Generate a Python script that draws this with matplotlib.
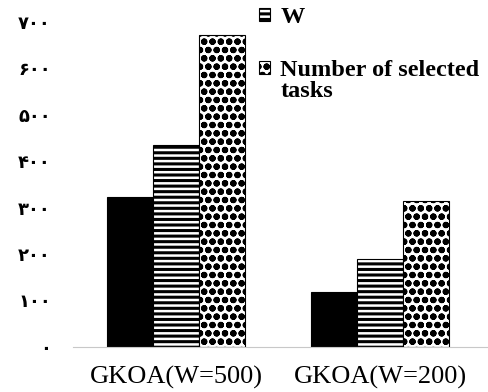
import matplotlib
matplotlib.use("Agg")
import matplotlib.pyplot as plt
import numpy as np

groups = ["GKOA(W=500)", "GKOA(W=200)"]
series_names = ["", "W", "Number of selected", "tasks"]
first_vals = [322, 118]
w_vals = [435, 190]
tasks_vals = [672, 315]
yticks = [0, 100, 200, 300, 400, 500, 600, 700]
ytick_labels = ["۰", "۱۰۰", "۲۰۰", "۳۰۰", "۴۰۰", "۵۰۰", "۶۰۰", "۷۰۰"]

plt.rcParams['hatch.linewidth'] = 2.2

fig = plt.figure(figsize=(4.88, 3.92), dpi=100)
ax = fig.add_axes([0.15, 0.115, 0.85, 0.829])

x = np.arange(len(groups))
bw = 0.225
b1 = ax.bar(x - bw, first_vals, bw, color="black", edgecolor="black", linewidth=0.8)
b2 = ax.bar(x, w_vals, bw, color="white", edgecolor="black", hatch="---", linewidth=0.8)
b3 = ax.bar(x + bw, tasks_vals, bw, color="white", edgecolor="black", hatch="oo", linewidth=0.8)

ax.set_xlim(-0.505, 1.53)
ax.set_ylim(0, 700)
ax.set_yticks(yticks)
ax.set_yticklabels(ytick_labels, family=["DejaVu Sans"], fontweight="bold", fontsize=13)
ax.set_xticks(x)
ax.set_xticklabels(groups, family=["Liberation Serif"], fontsize=19)
ax.tick_params(length=0)
ax.tick_params(axis="y", pad=16)
ax.tick_params(axis="x", pad=14)
for s in ["top", "right", "left"]:
    ax.spines[s].set_visible(False)
ax.spines["bottom"].set_color("#c8c8c8")

lprop = {"family": "Liberation Serif", "weight": "bold", "size": 17.5}
leg = fig.legend([b2, b3], series_names[1:3], loc="upper left", bbox_to_anchor=(0.505, 1.012),
                 frameon=False, prop=lprop,
                 borderpad=0, handlelength=0.45, handleheight=0.45, handletextpad=0.45,
                 labelspacing=1.3)

# second line of the long legend label, left-aligned under the first
fig.canvas.draw()
bb = leg.get_texts()[1].get_window_extent().transformed(fig.transFigure.inverted())
fig.text(bb.x0, bb.y0, series_names[3], ha="left", va="top",
         fontfamily=lprop["family"], fontweight="bold", fontsize=lprop["size"])

plt.savefig("out.png")
